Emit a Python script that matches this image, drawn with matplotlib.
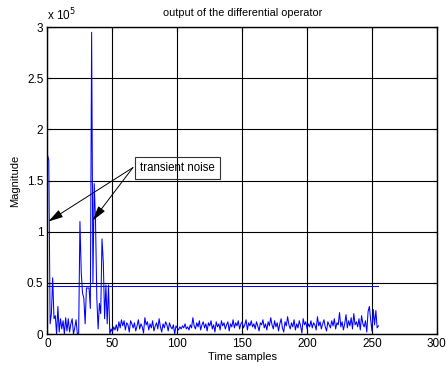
"""
Output of the differential operator, with threshold and transient noise note.
"""
import numpy as np
import matplotlib
matplotlib.use("Agg")
import matplotlib.pyplot as plt

# magnitude in units of 1e5, samples 0..47 (transient part)
head = [1.75, 1.70, 0.10, 0.20, 0.55, 0.15, 0.18, 0.00, 0.27, 0.02,
        0.15, 0.05, 0.13, 0.00, 0.16, 0.03, 0.15, 0.02, 0.10, 0.15,
        0.00, 0.06, 0.14, 0.00, 0.00, 1.10, 0.60, 0.40, 0.35, 0.10,
        0.45, 0.45, 0.45, 0.25, 2.95, 0.50, 1.47, 1.10, 0.35, 0.05,
        0.30, 0.20, 0.93, 0.70, 0.15, 0.48, 0.10, 0.48]
# samples 48..255 (steady noise)
tail = [0.00, 0.05, 0.02, 0.07, 0.04, 0.09, 0.03, 0.12, 0.06, 0.14, 0.08, 0.13, 0.04, 0.11, 0.09, 0.02,
        0.13, 0.10, 0.06, 0.11, 0.03, 0.08, 0.14, 0.05, 0.10, 0.07, 0.01, 0.16, 0.09, 0.12, 0.04, 0.10,
        0.06, 0.13, 0.03, 0.08, 0.11, 0.05, 0.15, 0.07, 0.02, 0.10, 0.06, 0.12, 0.09, 0.03, 0.11, 0.07,
        0.05, 0.09, 0.00, 0.08, 0.06, 0.04, 0.07, 0.05, 0.08, 0.06, 0.10, 0.05, 0.07, 0.04, 0.09, 0.06,
        0.16, 0.08, 0.05, 0.11, 0.07, 0.13, 0.04, 0.09, 0.12, 0.06, 0.10, 0.03, 0.11, 0.08, 0.13, 0.05,
        0.09, 0.02, 0.12, 0.07, 0.10, 0.04, 0.13, 0.08, 0.11, 0.05, 0.09, 0.12, 0.03, 0.10, 0.07, 0.14,
        0.06, 0.11, 0.08, 0.13, 0.05, 0.10, 0.12, 0.06, 0.09, 0.14, 0.04, 0.11, 0.08, 0.13, 0.07, 0.10,
        0.05, 0.12, 0.08, 0.03, 0.11, 0.09, 0.14, 0.06, 0.10, 0.04, 0.12, 0.08, 0.16, 0.09, 0.05, 0.13,
        0.07, 0.11, 0.03, 0.10, 0.15, 0.06, 0.02, 0.12, 0.08, 0.17, 0.09, 0.05, 0.11, 0.07, 0.14, 0.04,
        0.10, 0.06, 0.13, 0.08, 0.01, 0.15, 0.09, 0.12, 0.05, 0.10, 0.07, 0.13, 0.06, 0.11, 0.09, 0.04,
        0.17, 0.08, 0.12, 0.05, 0.10, 0.14, 0.07, 0.03, 0.12, 0.09, 0.06, 0.13, 0.08, 0.15, 0.05, 0.11,
        0.09, 0.21, 0.07, 0.12, 0.04, 0.10, 0.19, 0.06, 0.13, 0.08, 0.16, 0.05, 0.20, 0.09, 0.12, 0.07,
        0.15, 0.04, 0.18, 0.10, 0.07, 0.13, 0.02, 0.22, 0.27, 0.14, 0.03, 0.24, 0.09, 0.23, 0.06, 0.08]
threshold = 0.47

xticks = [0, 50, 100, 150, 200, 250, 300]
yticks = [0, 0.5, 1, 1.5, 2, 2.5, 3]
ytick_labels = ["0", "0.5", "1", "1.5", "2", "2.5", "3"]

plt.rcParams['font.family'] = ['Liberation Sans', 'DejaVu Sans']

mag = np.array(head + tail)
n = np.arange(len(mag))

fig = plt.figure(figsize=(4.46, 3.72), dpi=100)
ax = fig.add_axes([0.1065, 0.102, 0.873, 0.825])

ax.plot(n, mag, color='#0000ff', lw=0.75)
ax.plot(n, np.full(len(n), threshold), color='#0000ff', lw=0.75)

ax.set_xlim(0, 300)
ax.set_ylim(0, 3)
ax.set_xticks(xticks)
ax.set_yticks(yticks)
ax.set_yticklabels(ytick_labels)
ax.grid(True, color='k', lw=0.8, ls='-')
ax.set_axisbelow(True)
ax.tick_params(direction='in', top=True, right=True, labelsize=8.5, length=3, pad=3)
for sp in ax.spines.values():
    sp.set_linewidth(1.0)

ax.set_title("output of the differential operator", fontsize=7.8, pad=8)
ax.set_xlabel("Time samples", fontsize=8, labelpad=1)
ax.set_ylabel("Magnitude", fontsize=8, labelpad=5)
ax.text(0, 1.012, "x 10$^5$", transform=ax.transAxes, fontsize=8.5, va='bottom')

# annotation box with two arrows
ax.text(100.4, 1.623, "transient noise", fontsize=8.3, ha='center', va='center',
        bbox=dict(boxstyle='square,pad=0.45', fc='none', ec='#333333', lw=0.8))
for hx, hy in [(0.6, 1.10), (34.8, 1.11)]:
    ax.annotate("", xy=(hx, hy), xytext=(65.8, 1.627),
                arrowprops=dict(arrowstyle='-|>,head_length=0.9,head_width=0.25',
                                color='k', lw=0.7, shrinkA=0, shrinkB=0))

fig.savefig("out.png", dpi=100)
